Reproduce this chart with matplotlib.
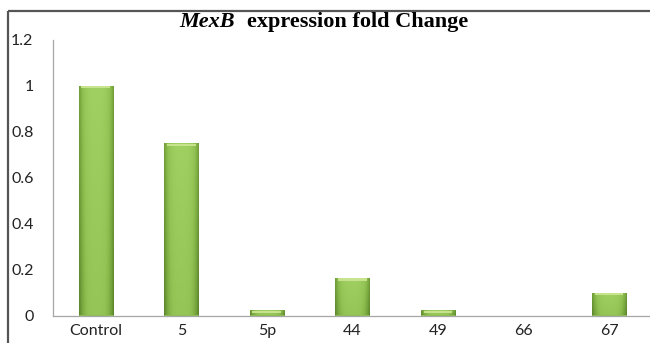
import numpy as np
import matplotlib
matplotlib.use('Agg')
import matplotlib.pyplot as plt
from matplotlib.lines import Line2D
from matplotlib.patches import Rectangle
from matplotlib.colors import LinearSegmentedColormap

CATEGORIES = ['Control', '5', '5p', '44', '49', '66', '67']
FOLD_CHANGE = [1.0, 0.75, 0.025, 0.165, 0.025, -0.003, 0.10]
Y_TICKS = [0, 0.2, 0.4, 0.6, 0.8, 1, 1.2]
Y_LABELS = ['0', '0.2', '0.4', '0.6', '0.8', '1', '1.2']

W, H = 650, 343
fig = plt.figure(figsize=(W/100, H/100), dpi=100)

# outer frame: only left and top edges are inside the picture
fy = 1 - 11/H
fx = 8/W
fig.lines.append(Line2D([fx, fx], [-0.05, fy], transform=fig.transFigure,
                        color='#555555', lw=1.6, solid_capstyle='butt'))
fig.lines.append(Line2D([fx, 1.05], [fy, fy], transform=fig.transFigure,
                        color='#555555', lw=1.6, solid_capstyle='butt'))

ax = fig.add_axes([53/W, 1 - 315.5/H, 597/W, 276/H])
ax.patch.set_visible(False)

# bevelled green fill: dark sides, lighter middle, a bit darker at the foot
green = LinearSegmentedColormap.from_list('g', ['#5a852b', '#78a63e',
                                                '#92c253', '#a0cf62'])
xs = np.linspace(0, 1, 60)
ys = np.linspace(0, 1, 60)
horiz = np.abs(xs - 0.5) * 2
grad = np.empty((60, 60))
for i, yv in enumerate(ys):
    grad[i] = 1 - 0.75 * horiz ** 3 - 0.25 * (1 - yv)

bars = ax.bar(range(len(CATEGORIES)), FOLD_CHANGE, width=0.4,
              color='#8fbf50', edgecolor='#6e9a3a', lw=0.6, zorder=2)
for b in bars:
    x0, y0 = b.get_x(), b.get_y()
    w, h = b.get_width(), b.get_height()
    if abs(h) < 0.01:
        continue
    img = ax.imshow(grad, extent=(x0, x0 + w, y0, y0 + h), origin='lower',
                    cmap=green, vmin=0, vmax=1, aspect='auto', zorder=3,
                    interpolation='bilinear')
    img.set_clip_path(b)
    ax.add_patch(Rectangle((x0 + w*0.08, y0 + h - 0.013), w*0.84, 0.009,
                           fc='#cde693', ec='none', zorder=4, alpha=0.9))
ax.set_xlim(-0.5, 6.48)
ax.set_ylim(0, 1.2)

ax.spines['top'].set_visible(False)
ax.spines['right'].set_visible(False)
ax.spines['left'].set_color('#a6a6a6')
ax.spines['bottom'].set_color('#a6a6a6')
ax.spines['left'].set_linewidth(0.9)
ax.spines['bottom'].set_linewidth(0.9)
ax.spines['bottom'].set_zorder(5)

ax.set_xticks(range(len(CATEGORIES)))
ax.set_xticklabels(CATEGORIES, family='Lato', fontsize=11.5, color='#222222')
ax.set_yticks(Y_TICKS)
ax.set_yticklabels(Y_LABELS, family='Lato', fontsize=11.5, color='#222222')
ax.tick_params(axis='both', length=0)
ax.tick_params(axis='y', pad=14)
ax.tick_params(axis='x', pad=6)

fig.text(179/W, 1 - 22/H, 'MexB', fontsize=16, ha='left', va='center',
         family='Liberation Serif', style='italic', weight='bold')
fig.text(247/W, 1 - 22/H, 'expression fold Change', fontsize=16,
         ha='left', va='center', family='Liberation Serif', weight='bold')

fig.savefig('out.png', dpi=100)
